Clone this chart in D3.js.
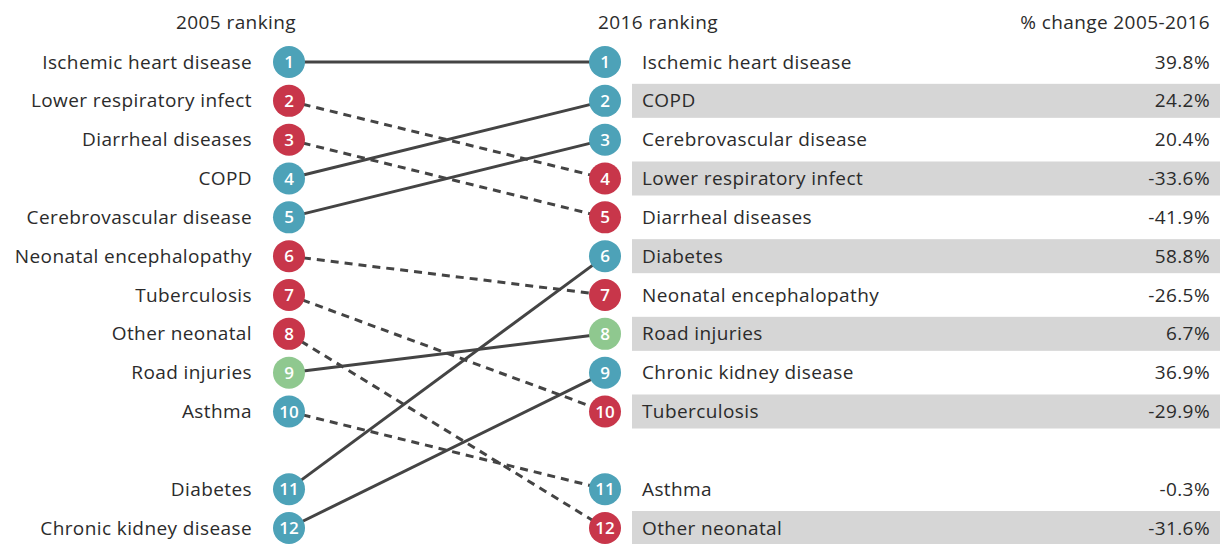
<!DOCTYPE html>
<html>
<head>
<meta charset="utf-8">
<script src="https://cdn.jsdelivr.net/npm/d3@7"></script>
<style>
  body { margin: 0; background: #fff; }
  svg text { font-family: "Open Sans", sans-serif; fill: #2b2b2b; }
  .lbl { font-size: 19px; letter-spacing: 0.4px; }
</style>
</head>
<body>
<svg id="chart" width="1223" height="544"></svg>
<script>
// causes, 2005 order
let causes = ["Ischemic heart disease", "Lower respiratory infect", "Diarrheal diseases", "COPD",
  "Cerebrovascular disease", "Neonatal encephalopathy", "Tuberculosis", "Other neonatal",
  "Road injuries", "Asthma", "Diabetes", "Chronic kidney disease"];
let rank2005 = [1, 2, 3, 4, 5, 6, 7, 8, 9, 10, 11, 12];
let rank2016 = [1, 4, 5, 2, 3, 7, 10, 12, 8, 11, 6, 9];
let pctChange = [39.8, -33.6, -41.9, 24.2, 20.4, -26.5, -29.9, -31.6, 6.7, -0.3, 58.8, 36.9];
let groups = ["ncd", "cmnn", "cmnn", "ncd", "ncd", "cmnn", "cmnn", "cmnn", "inj", "ncd", "ncd", "ncd"];
let headers = ["2005 ranking", "2016 ranking", "% change 2005-2016"];

let colors = { ncd: "#4da2b8", cmnn: "#c8364a", inj: "#8fc88f" };

let data = causes.map((c, i) => ({
  cause: c, r05: rank2005[i], r16: rank2016[i], pct: pctChange[i], group: groups[i]
}));

// ranks 11 and 12 sit one slot lower, leaving a gap
function slot(rank) { return rank <= 10 ? rank : rank + 1; }

let y = d3.scaleLinear().domain([1, 13]).range([62, 528]);
let xLeft = 289, xRight = 605;
let r = 16;

let svg = d3.select("#chart");

// grey bands behind even 2016 ranks
svg.append("g").selectAll("rect")
  .data(data.filter(d => d.r16 % 2 === 0))
  .enter().append("rect")
  .attr("x", 632)
  .attr("width", 588)
  .attr("y", d => y(slot(d.r16)) - 17)
  .attr("height", 34)
  .attr("fill", "#d6d6d6");

// headers
svg.append("text").classed("lbl", true).attr("x", 296).attr("y", 29).attr("text-anchor", "end")
  .text(headers[0]);
svg.append("text").classed("lbl", true).attr("x", 598).attr("y", 29)
  .text(headers[1]);
svg.append("text").classed("lbl", true).attr("x", 1210).attr("y", 29).attr("text-anchor", "end")
  .text(headers[2]);

// slope lines
svg.append("g").selectAll("line")
  .data(data)
  .enter().append("line")
  .attr("x1", xLeft).attr("y1", d => y(slot(d.r05)))
  .attr("x2", xRight).attr("y2", d => y(slot(d.r16)))
  .attr("stroke", "#444")
  .attr("stroke-width", 3)
  .attr("stroke-dasharray", d => d.r16 > d.r05 ? "8,6" : null);

// left side
let left = svg.append("g").selectAll("g")
  .data(data).enter().append("g")
  .attr("transform", d => "translate(" + xLeft + "," + y(slot(d.r05)) + ")");

left.append("text").classed("lbl", true)
  .attr("x", -37).attr("dy", "0.35em")
  .attr("text-anchor", "end")
  .text(d => d.cause);

left.append("circle").attr("r", r).attr("fill", d => colors[d.group]);
left.append("text")
  .attr("dy", "0.36em").attr("text-anchor", "middle")
  .style("font-size", "17px").style("font-weight", "600").style("fill", "#fff")
  .text(d => d.r05);

// right side
let right = svg.append("g").selectAll("g")
  .data(data).enter().append("g")
  .attr("transform", d => "translate(" + xRight + "," + y(slot(d.r16)) + ")");

right.append("circle").attr("r", r).attr("fill", d => colors[d.group]);
right.append("text")
  .attr("dy", "0.36em").attr("text-anchor", "middle")
  .style("font-size", "17px").style("font-weight", "600").style("fill", "#fff")
  .text(d => d.r16);

right.append("text").classed("lbl", true)
  .attr("x", 37).attr("dy", "0.35em")
  .text(d => d.cause);

right.append("text").classed("lbl", true)
  .attr("x", 1210 - xRight).attr("dy", "0.35em")
  .attr("text-anchor", "end")
  .text(d => d.pct.toFixed(1) + "%");
</script>
</body>
</html>
